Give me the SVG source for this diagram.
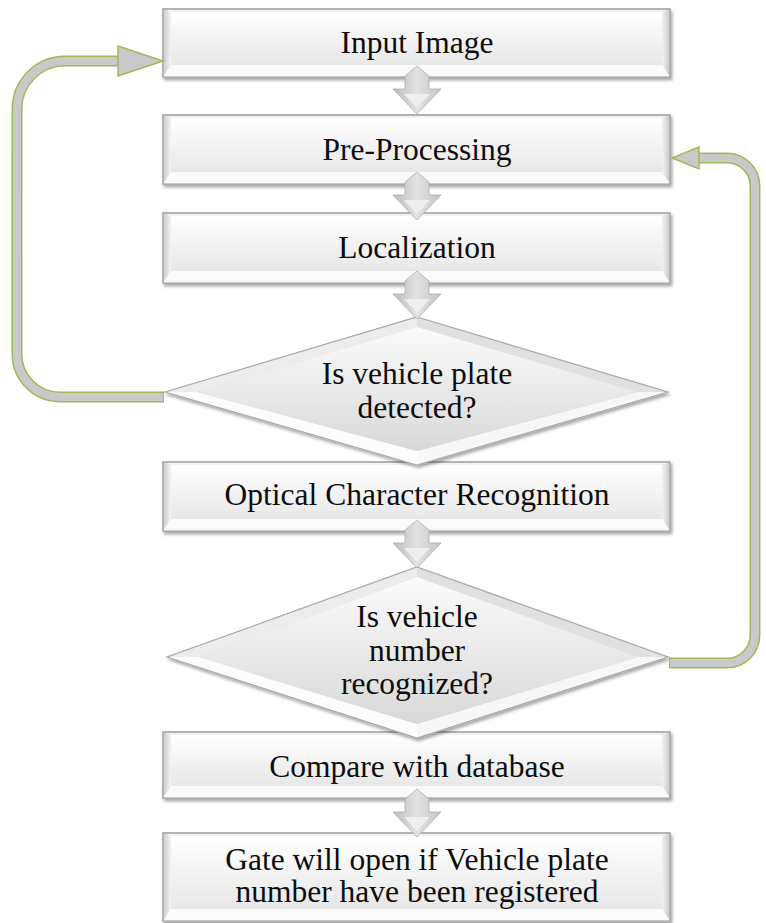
<svg xmlns="http://www.w3.org/2000/svg" width="766" height="923" viewBox="0 0 766 923">
<defs>
<linearGradient id="gFace" x1="0" y1="0" x2="0" y2="1"><stop offset="0" stop-color="#ffffff"/><stop offset="1" stop-color="#e7e7e7"/></linearGradient>
<linearGradient id="gL" x1="0" y1="0" x2="1" y2="0"><stop offset="0" stop-color="#c9c9c9"/><stop offset="1" stop-color="#f4f4f4"/></linearGradient>
<linearGradient id="gR" x1="0" y1="0" x2="1" y2="0"><stop offset="0" stop-color="#f3f3f3"/><stop offset="1" stop-color="#c6c6c6"/></linearGradient>
<linearGradient id="gDF" x1="0" y1="0" x2="0" y2="1"><stop offset="0" stop-color="#fbfbfb"/><stop offset="1" stop-color="#d8d8d8"/></linearGradient>
<linearGradient id="gArr" x1="0" y1="0" x2="1" y2="0"><stop offset="0" stop-color="#bcbcbc"/><stop offset="0.5" stop-color="#e2e2e2"/><stop offset="1" stop-color="#c4c4c4"/></linearGradient>
<filter id="sh" x="-5%" y="-10%" width="112%" height="135%"><feDropShadow dx="1.5" dy="2.5" stdDeviation="1.8" flood-color="#000" flood-opacity="0.35"/></filter>
<g id="blk">
<polygon points="0,0 12,10 12,23 24,23 0,48 -24,23 -12,23 -12,10" fill="url(#gArr)" stroke="#adadad" stroke-width="0.8"/>
<polygon points="-13,28 13,28 0,42" fill="#eeeeee"/>
</g>
</defs>
<style>
.o{fill:#f2f2f2;stroke:#a3a3a3;stroke-width:1.2}
.f{fill:url(#gFace)}
.bl{fill:url(#gL)}
.br{fill:url(#gR)}
.bb{fill:#fafafa}
.df{fill:url(#gDF)}
.dtl{fill:#ececec}
.dtr{fill:#e0e0e0}
.dbr{fill:#f7f7f7}
.dbl{fill:#fcfcfc}
.dout{fill:none;stroke:#a8a8a8;stroke-width:1.2}
.t{font-family:"Liberation Serif","Times New Roman",serif;font-size:31.5px;fill:#0d0d0d;text-anchor:middle}
.gb{fill:none;stroke:#9bbb59;stroke-width:11}
.gi{fill:none;stroke:#c9c9c9;stroke-width:8}
.gh{fill:#c9c9c9;stroke:#9bbb59;stroke-width:1.5}
</style>
<rect width="766" height="923" fill="#ffffff"/>

<g id="nodes">
<g id="n-input">
<g filter="url(#sh)">
<rect class="o" x="163" y="9" width="507" height="68"/>
<rect class="f" x="171" y="12" width="491" height="53"/>
<polygon class="bl" points="163,9 171,12 171,65 163,77"/>
<polygon class="br" points="670,9 662,12 662,65 670,77"/>
<polygon class="bb" points="163,77 171,65 662,65 670,77"/>
<rect class="dout" x="163" y="9" width="507" height="68"/>
</g>
<text class="t" x="417" y="53">Input Image</text>
</g>

<g id="n-pre">
<g filter="url(#sh)">
<rect class="o" x="163" y="115" width="507" height="69"/>
<rect class="f" x="171" y="118" width="491" height="54"/>
<polygon class="bl" points="163,115 171,118 171,172 163,184"/>
<polygon class="br" points="670,115 662,118 662,172 670,184"/>
<polygon class="bb" points="163,184 171,172 662,172 670,184"/>
<rect class="dout" x="163" y="115" width="507" height="69"/>
</g>
<text class="t" x="417" y="160">Pre-Processing</text>
</g>

<g id="n-loc">
<g filter="url(#sh)">
<rect class="o" x="163" y="213" width="507" height="70"/>
<rect class="f" x="171" y="216" width="491" height="55"/>
<polygon class="bl" points="163,213 171,216 171,271 163,283"/>
<polygon class="br" points="670,213 662,216 662,271 670,283"/>
<polygon class="bb" points="163,283 171,271 662,271 670,283"/>
<rect class="dout" x="163" y="213" width="507" height="70"/>
</g>
<text class="t" x="417" y="258">Localization</text>
</g>

<g id="n-ocr">
<g filter="url(#sh)">
<rect class="o" x="163" y="462" width="507" height="69"/>
<rect class="f" x="171" y="465" width="491" height="54"/>
<polygon class="bl" points="163,462 171,465 171,519 163,531"/>
<polygon class="br" points="670,462 662,465 662,519 670,531"/>
<polygon class="bb" points="163,531 171,519 662,519 670,531"/>
<rect class="dout" x="163" y="462" width="507" height="69"/>
</g>
<text class="t" x="417" y="505">Optical Character Recognition</text>
</g>

<g id="n-cmp">
<g filter="url(#sh)">
<rect class="o" x="163" y="732" width="507" height="66"/>
<rect class="f" x="171" y="735" width="491" height="51"/>
<polygon class="bl" points="163,732 171,735 171,786 163,798"/>
<polygon class="br" points="670,732 662,735 662,786 670,798"/>
<polygon class="bb" points="163,798 171,786 662,786 670,798"/>
<rect class="dout" x="163" y="732" width="507" height="66"/>
</g>
<text class="t" x="417" y="777">Compare with database</text>
</g>

<g id="n-gate">
<g filter="url(#sh)">
<rect class="o" x="163" y="833" width="507" height="88"/>
<rect class="f" x="171" y="836" width="491" height="73"/>
<polygon class="bl" points="163,833 171,836 171,909 163,921"/>
<polygon class="br" points="670,833 662,836 662,909 670,921"/>
<polygon class="bb" points="163,921 171,909 662,909 670,921"/>
<rect class="dout" x="163" y="833" width="507" height="88"/>
</g>
<text class="t" x="417" y="870">Gate will open if Vehicle plate</text>
<text class="t" x="417" y="902">number have been registered</text>
</g>

<g id="n-dec1">
<g filter="url(#sh)">
<polygon class="dtl" points="165,392 417,317 417,327 197,392"/>
<polygon class="dtr" points="417,317 668,392 638,392 417,327"/>
<polygon class="dbr" points="668,392 417,465 417,451 638,392"/>
<polygon class="dbl" points="417,465 165,392 197,392 417,451"/>
<polygon class="df" points="417,327 638,392 417,451 197,392"/>
<polygon class="dout" points="417,317 668,392 417,465 165,392"/>
</g>
<text class="t" x="417" y="384">Is vehicle plate</text>
<text class="t" x="417" y="418">detected?</text>
</g>

<g id="n-dec2">
<g filter="url(#sh)">
<polygon class="dtl" points="167,657 417,567 417,577 199,657"/>
<polygon class="dtr" points="417,567 668,657 638,657 417,577"/>
<polygon class="dbr" points="668,657 417,738 417,724 638,657"/>
<polygon class="dbl" points="417,738 167,657 199,657 417,724"/>
<polygon class="df" points="417,577 638,657 417,724 199,657"/>
<polygon class="dout" points="417,567 668,657 417,738 167,657"/>
</g>
<text class="t" x="417" y="627">Is vehicle</text>
<text class="t" x="417" y="661">number</text>
<text class="t" x="417" y="694">recognized?</text>
</g>
</g>

<g id="connectors">
<path class="gb" d="M164,397 H60 A43,43 0 0 1 17,354 V109 A48,48 0 0 1 65,61 H120"/>
<path class="gi" d="M163,397 H60 A43,43 0 0 1 17,354 V109 A48,48 0 0 1 65,61 H120"/>
<polygon class="gh" points="118,46 163,61 118,76"/>

<path class="gb" d="M669,663 H727 A28,28 0 0 0 755,635 V186 A28,28 0 0 0 727,158 H697"/>
<path class="gi" d="M670,663 H727 A28,28 0 0 0 755,635 V186 A28,28 0 0 0 727,158 H697"/>
<polygon class="gh" points="699,147 672,158 699,169"/>

<use href="#blk" x="417" y="66"/>
<use href="#blk" x="417" y="172"/>
<use href="#blk" x="417" y="271"/>
<use href="#blk" x="417" y="520"/>
<use href="#blk" x="417" y="789"/>
</g>
</svg>
